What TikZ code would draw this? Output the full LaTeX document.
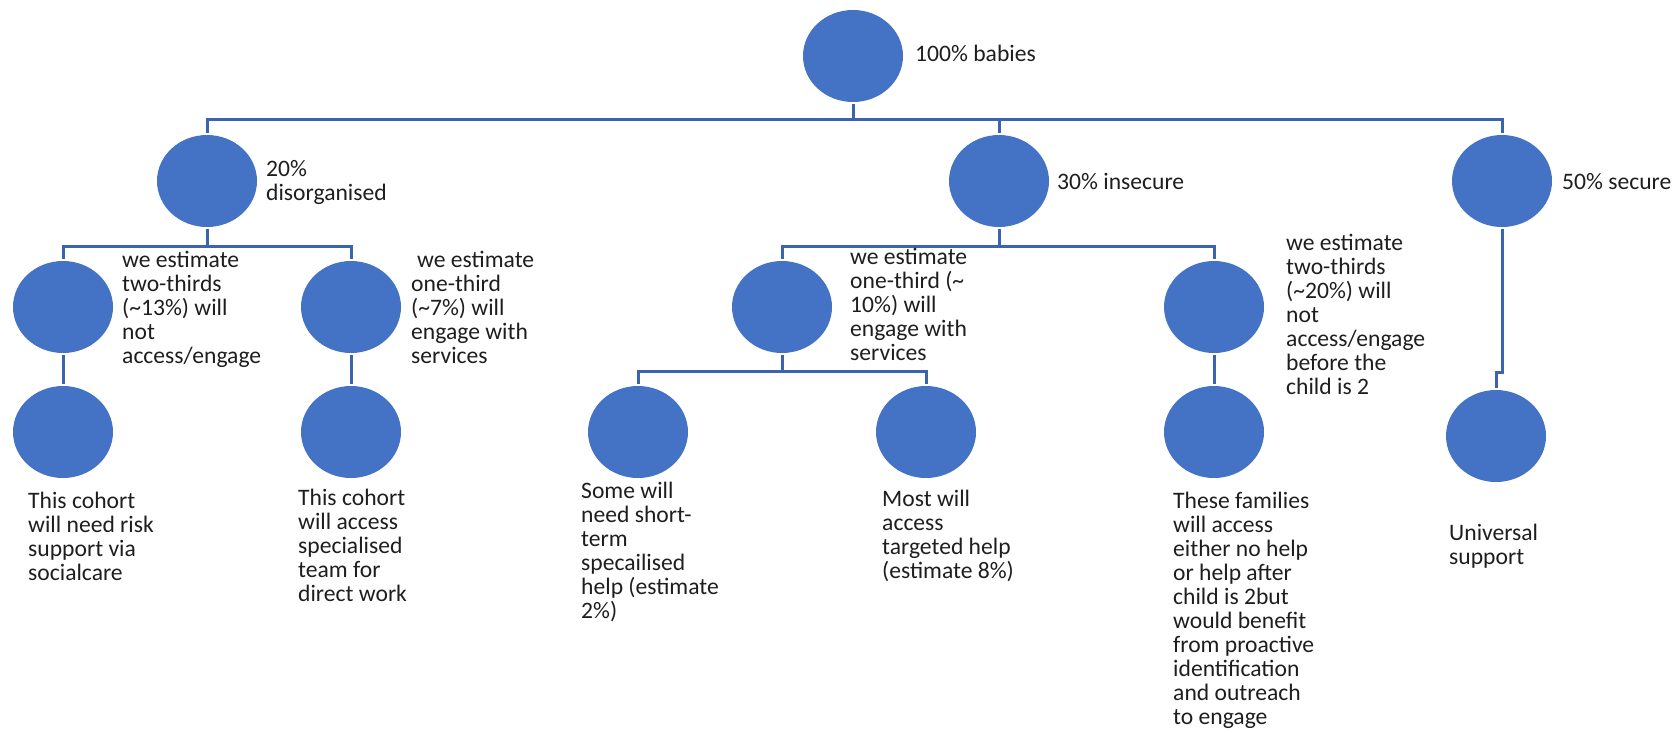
\documentclass[tikz,border=0pt]{standalone}
\usepackage{fontspec}
\setmainfont{Carlito}
\usetikzlibrary{shapes.geometric}

\definecolor{blobblue}{HTML}{4472C4}
\definecolor{linkblue}{HTML}{3A63B0}
\definecolor{notegray}{HTML}{1E1E1E}
\newcommand{\notefont}{\fontsize{23.6}{24}\selectfont}

\begin{document}
\begin{tikzpicture}[x=1pt,y=-1pt]

    \tikzset{
      blob/.style={
        ellipse,
        fill=blobblue,
        inner sep=0pt,
        minimum width=100pt,
        minimum height=92pt,
      },
      link/.style={
        draw=linkblue,
        line width=3pt,
        shorten <=2pt,
        shorten >=2pt,
      },
      note/.style={
        anchor=north west,
        inner sep=0pt,
        align=left,
        text=notegray,
        font=\notefont,
        execute at begin node=\strut,
      },
    }
    \useasboundingbox (0,0) rectangle (1680,732);

	% the circles
	\node[blob] (all) at (853,56) {};
	\node[blob] (dis) at (207,181) {};
	\node[blob] (ins) at (999,181) {};
	\node[blob] (sec) at (1502,181) {};
	\node[blob] (disno) at (63,307) {};
	\node[blob] (disyes) at (351,307) {};
	\node[blob] (insyes) at (782,307) {};
	\node[blob] (insno) at (1214,307) {};
	\node[blob] (risk) at (63,432) {};
	\node[blob] (spec) at (351,432) {};
	\node[blob] (short) at (638,432) {};
	\node[blob] (target) at (926,432) {};
	\node[blob] (later) at (1214,432) {};
	\node[blob] (univ) at (1496,436) {};

	% the connectors
	\foreach \c in {dis,ins,sec} \draw[link] (all.south) -- ++(0,17) -| (\c.north);
	\foreach \c in {disno,disyes} \draw[link] (dis.south) -- ++(0,19) -| (\c.north);
	\foreach \c in {insyes,insno} \draw[link] (ins.south) -- ++(0,19) -| (\c.north);
	\foreach \c in {short,target} \draw[link] (insyes.south) -- ++(0,18) -| (\c.north);
	\draw[link] (disno.south) -- (risk.north);
	\draw[link] (disyes.south) -- (spec.north);
	\draw[link] (insno.south) -- (later.north);
	\draw[link] (sec.south) -- ++(0,145) -| (univ.north);

	% the texts
	\node[note] (tall) at (915,44) {100\% babies};
	\node[note] (tdis) at (266,160) {20\%\\disorganised};
	\node[note] (tins) at (1057,172) {30\% insecure};
	\node[note] (tsec) at (1562,172) {50\% secure};
	\node[note] (tdisno) at (122,251) {we estimate\\two-thirds\\(\textasciitilde13\%) will\\not\\access/engage};
	\node[note] (tdisyes) at (411,251) {\hspace*{6pt}we estimate\\one-third\\(\textasciitilde7\%) will\\engage with\\services};
	\node[note] (tinsyes) at (850,248) {we estimate\\one-third (\textasciitilde\\10\%) will\\engage with\\services};
	\node[note] (tinsno) at (1286,234) {we estimate\\two-thirds\\(\textasciitilde20\%) will\\not\\access/engage\\before the\\child is 2};
	\node[note] (trisk) at (28,492) {This cohort\\will need risk\\support via\\socialcare};
	\node[note] (tspec) at (298,489) {This cohort\\will access\\specialised\\team for\\direct work};
	\node[note] (tshort) at (581,482) {Some will\\need short-\\term\\specailised\\help (estimate\\2\%)};
	\node[note] (ttarget) at (882,490) {Most will\\access\\targeted help\\(estimate 8\%)};
	\node[note] (tlater) at (1173,492) {These families\\will access\\either no help\\or help after\\child is 2but\\would benefit\\from proactive\\identification\\and outreach\\to engage};
	\node[note] (tuniv) at (1449,524) {Universal\\support};

\end{tikzpicture}
\end{document}
